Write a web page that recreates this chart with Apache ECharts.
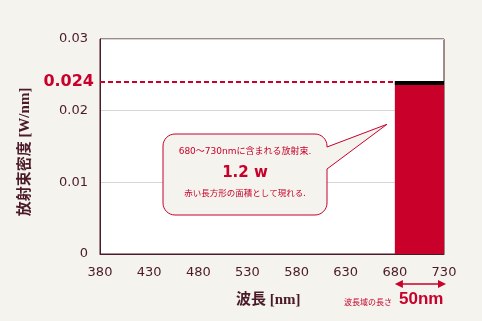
<!DOCTYPE html>
<html><head><meta charset="utf-8">
<script src="https://cdn.jsdelivr.net/npm/echarts@6/dist/echarts.min.js"></script>
<style>html,body{margin:0;padding:0;background:#f4f3ee}#c{width:482px;height:321px}</style>
</head><body><div id="c"></div>
<script>
const xTicks = [380, 430, 480, 530, 580, 630, 680, 730];
const yTicks = [0, 0.01, 0.02, 0.03];
const bandStart = [680];
const bandEnd = [730];
const bandValue = [0.024];
const refLevel = 0.024;

const RED = '#c8002a', DARK = '#4a1a28';
const chart = echarts.init(document.getElementById('c'));
const barData = bandStart.map((s, i) => [s, bandEnd[i], bandValue[i]]);

chart.setOption({
  backgroundColor: '#f4f3ee',
  animation: false,
  grid: { left: 100, right: 38, top: 39, bottom: 67, show: true, backgroundColor: '#ffffff', borderColor: DARK, borderWidth: 1, outerBoundsMode: 'none', containLabel: false },
  xAxis: {
    type: 'value', min: xTicks[0], max: xTicks[xTicks.length - 1], interval: 50,
    axisLine: { lineStyle: { color: DARK } }, axisTick: { show: false }, splitLine: { show: false },
    axisLabel: { color: DARK, fontSize: 13, fontFamily: 'DejaVu Sans', margin: 12 }
  },
  yAxis: {
    type: 'value', min: yTicks[0], max: yTicks[yTicks.length - 1], interval: 0.01,
    axisLine: { show: true, lineStyle: { color: DARK } }, axisTick: { show: false },
    splitLine: { lineStyle: { color: '#d6d6d6' } },
    axisLabel: { color: DARK, fontSize: 13, fontFamily: 'DejaVu Sans', margin: 12, formatter: v => String(+v.toFixed(3)) }
  },
  series: [{
    type: 'custom',
    data: barData,
    encode: { x: [0, 1], y: 2 },
    renderItem: (params, api) => {
      const p0 = api.coord([api.value(0), 0]);
      const p1 = api.coord([api.value(1), api.value(2)]);
      return { type: 'group', children: [
        { type: 'rect', shape: { x: p0[0], y: p1[1], width: p1[0] - p0[0], height: p0[1] - p1[1] }, style: { fill: RED } },
        { type: 'rect', shape: { x: p0[0], y: p1[1] - 1, width: p1[0] - p0[0], height: 4 }, style: { fill: '#000' } }
      ]};
    },
    markLine: {
      silent: true, symbol: 'none',
      lineStyle: { color: RED, width: 2, type: [5, 3] },
      label: { show: true, position: 'start', formatter: '0.024', color: RED, fontSize: 16, fontWeight: 'bold', fontFamily: 'DejaVu Sans', distance: 6 },
      data: [[{ coord: [xTicks[0], refLevel] }, { coord: [bandStart[0], refLevel] }]]
    }
  }]
});

const a = chart.convertToPixel({ gridIndex: 0 }, [bandStart[0], 0]);
const b = chart.convertToPixel({ gridIndex: 0 }, [bandEnd[0], 0]);
const ay = 284;
const tip = chart.convertToPixel({ gridIndex: 0 }, [672, 0.0181]);

function arc(cx, cy, r, a0, a1) {
  const pts = [];
  for (let i = 0; i <= 8; i++) {
    const t = a0 + (a1 - a0) * i / 8;
    pts.push([cx + r * Math.cos(t), cy + r * Math.sin(t)]);
  }
  return pts;
}
const L = 163, R = 327, T = 134, B = 215, r = 12, P = Math.PI;
const bubble = [].concat(
  arc(L + r, T + r, r, P, 1.5 * P),
  arc(R - r, T + r, r, 1.5 * P, 2 * P),
  [[R, 147], [tip[0], tip[1]], [R, 169]],
  arc(R - r, B - r, r, 0, 0.5 * P),
  arc(L + r, B - r, r, 0.5 * P, P)
);

chart.setOption({
  graphic: [
    { type: 'text', x: 25, y: 152, rotation: Math.PI / 2, style: { text: '放射束密度 [W/nm]', fill: DARK, font: 'bold 15px "Liberation Serif","Noto Sans CJK JP"', align: 'center', verticalAlign: 'middle' } },
    { type: 'polygon', shape: { points: bubble }, style: { fill: '#f4f3ee', stroke: RED, lineWidth: 1 } },
    { type: 'text', x: 245, y: 152, style: { text: '680～730nmに含まれる放射束.', fill: RED, font: '9px "DejaVu Sans","Noto Sans CJK JP"', align: 'center', verticalAlign: 'middle' } },
    { type: 'text', x: 245, y: 173, style: { text: '1.2 w', fill: RED, font: 'bold 15px "DejaVu Sans"', align: 'center', verticalAlign: 'middle' } },
    { type: 'text', x: 245, y: 193, style: { text: '赤い長方形の面積として現れる.', fill: RED, font: '8.5px "Noto Sans CJK JP"', align: 'center', verticalAlign: 'middle' } },
    { type: 'text', x: 236, y: 300, style: { text: '波長 [nm]', fill: DARK, font: 'bold 15px "Liberation Serif","Noto Sans CJK JP"', align: 'left', verticalAlign: 'middle' } },
    { type: 'line', shape: { x1: a[0] + 4, y1: ay, x2: b[0] - 4, y2: ay }, style: { stroke: RED, lineWidth: 1.5 } },
    { type: 'polygon', shape: { points: [[a[0], ay], [a[0] + 8, ay - 4], [a[0] + 8, ay + 4]] }, style: { fill: RED } },
    { type: 'polygon', shape: { points: [[b[0] + 2, ay], [b[0] - 6, ay - 4], [b[0] - 6, ay + 4]] }, style: { fill: RED } },
    { type: 'text', x: 392, y: 302, style: { text: '波長域の長さ', fill: RED, font: '8px "Noto Sans CJK JP"', align: 'right', verticalAlign: 'middle' } },
    { type: 'text', x: 399, y: 299, style: { text: '50nm', fill: RED, font: 'bold 17px "Liberation Sans"', align: 'left', verticalAlign: 'middle' } }
  ]
});
</script></body></html>
